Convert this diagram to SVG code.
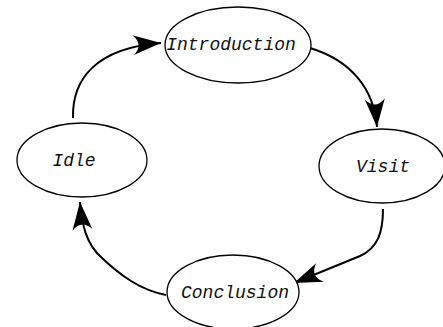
<svg xmlns="http://www.w3.org/2000/svg" width="443" height="327" viewBox="0 0 443 327">
<style>
.node ellipse{fill:#fff;stroke:#000;stroke-width:1.3}
.node text{font-family:"Liberation Mono","DejaVu Sans Mono",monospace;font-style:italic;font-size:18px;fill:#111;text-anchor:middle}
.edge{fill:none;stroke:#000;stroke-width:2}
</style>
<defs>
<marker id="ah" markerUnits="userSpaceOnUse" markerWidth="32" markerHeight="26" viewBox="-30 -13 32 26" refX="0" refY="0" orient="auto">
<path d="M0,0 L-28,-10 Q-17,0 -28,10 Z" fill="#000"/>
</marker>
</defs>
<rect width="443" height="327" fill="#fff"/>
<g id="connectors">
<path class="edge" d="M73,118 C72,80 95,48 161,43" marker-end="url(#ah)"/>
<path class="edge" d="M310,48 C350,60 374,88 377,127" marker-end="url(#ah)"/>
<path class="edge" d="M383,209 C383,232 378,248 360,256 L294,283" marker-end="url(#ah)"/>
<path class="edge" d="M166,295 C140,290 120,275 102,258 C86,244 82,225 80,202" marker-end="url(#ah)"/>
</g>
<g id="introduction" class="node">
<ellipse cx="238" cy="45" rx="73" ry="38"/>
<text x="231" y="50">Introduction</text>
</g>
<g id="visit" class="node">
<ellipse cx="382" cy="166" rx="63" ry="37"/>
<text x="383" y="172">Visit</text>
</g>
<g id="idle" class="node">
<ellipse cx="82" cy="160" rx="65" ry="37"/>
<text x="74" y="166">Idle</text>
</g>
<g id="conclusion" class="node">
<ellipse cx="233" cy="292" rx="66" ry="37"/>
<text x="235" y="298">Conclusion</text>
</g>
</svg>
